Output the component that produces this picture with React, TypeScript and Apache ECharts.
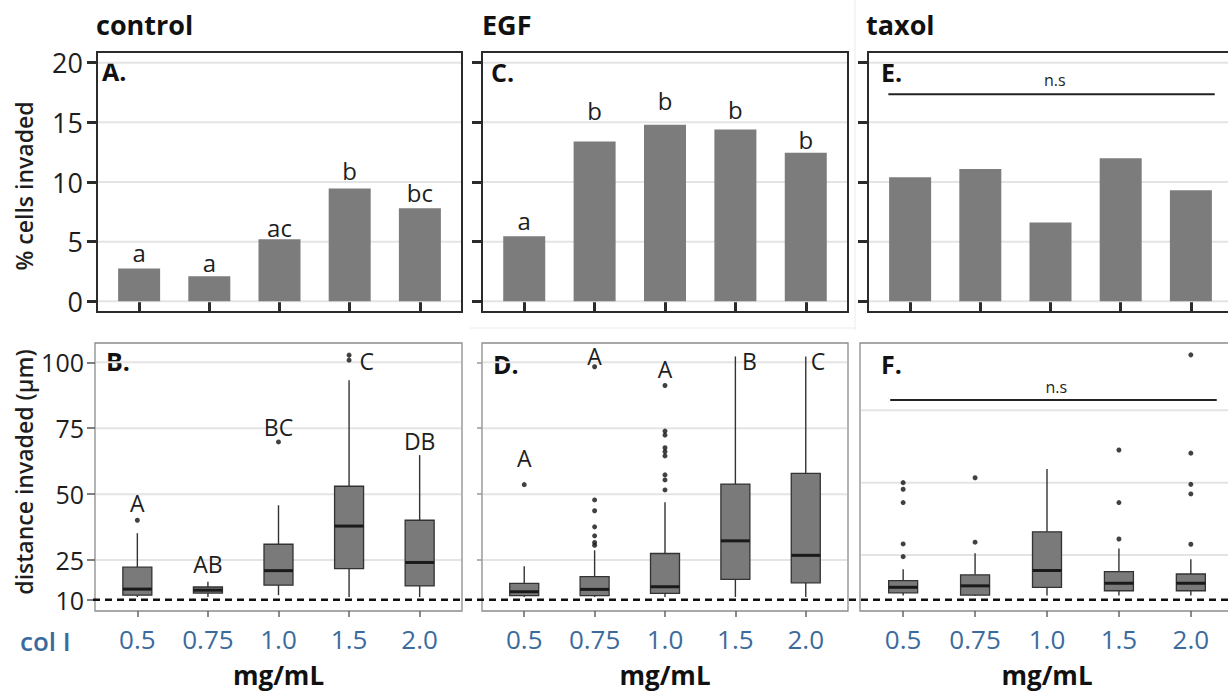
import React, { useEffect, useRef } from "react";
import * as echarts from "echarts";

// ---------- data ----------
const CATS = ["0.5", "0.75", "1.0", "1.5", "2.0"];
const XPOS = [1, 2, 3, 4, 5];

// % cells invaded (top row)
const pctControl = [2.75, 2.1, 5.2, 9.45, 7.8];
const pctEGF = [5.45, 13.4, 14.8, 14.4, 12.45];
const pctTaxol = [10.4, 11.1, 6.6, 12.0, 9.3];

const lettersControl = ["a", "a", "ac", "b", "bc"];
const lettersControlY = [4.1, 3.26, 6.2, 10.95, 9.13];
const lettersEGF = ["a", "b", "b", "b", "b"];
const lettersEGFY = [6.76, 15.98, 16.87, 16.12, 13.6];

// distance invaded (bottom row): [min, Q1, median, Q3, max]
const boxControl = [
  [11, 11.7, 14, 22.3, 35.2],
  [11, 12.5, 13.6, 14.8, 16.8],
  [11.7, 15.5, 21, 31, 45.8],
  [11, 21.8, 37.9, 53, 93.2],
  [11, 15.2, 24.1, 40.1, 64.8],
];
const outControl = [[40.1], [], [69.8], [100.8, 102.7], []];

const boxEGF = [
  [11, 11.5, 13, 16.2, 22.7],
  [11, 11.5, 13.9, 18.7, 28.7],
  [11, 12.4, 14.9, 27.5, 46.9],
  [11, 17.7, 32.3, 53.8, 102.2],
  [11, 16.4, 26.8, 57.9, 102.2],
];
const outEGF = [
  [53.6],
  [30.6, 31.7, 34.2, 37.6, 43.7, 47.8, 98.3],
  [51.6, 55.4, 57.3, 64.5, 66.1, 67.6, 72.4, 73.9, 91.2],
  [],
  [],
];

const boxTaxol = [
  [11, 11.9, 13.8, 16.1, 20.0],
  [10.8, 11.1, 14.3, 18.1, 25.6],
  [11, 13.8, 19.6, 33, 54.7],
  [11, 12.6, 15.2, 19.2, 27.2],
  [11, 12.6, 15.2, 18.4, 23.5],
];
const outTaxol = [
  [24.4, 28.8, 43.1, 47.7, 50],
  [29.4, 51.7],
  [],
  [30.5, 43.1, 61.3],
  [28.7, 46.1, 49.4, 60.2, 94.2],
];

const boxLettersControl = ["A", "AB", "BC", "C", "DB"];
const boxLettersControlX = [1, 2, 3, 4.25, 5];
const boxLettersControlY = [46.7, 23.4, 75.4, 100.4, 70.1];
const boxLettersEGF = ["A", "A", "A", "B", "C"];
const boxLettersEGFX = [1, 2, 3, 4.2, 5.175];
const boxLettersEGFY = [63.6, 102.4, 97.3, 100.5, 100.5];

// n.s brackets (taxol)
const nsTopLineX = [0.69, 5.34];
const nsTopLineY = 17.35;
const nsTopText = [3.06, 18.57];
const nsBotLineX = [0.82, 5.36];
const nsBotLineY = 78.6;
const nsBotText = [3.13, 83.1];

const topTicks = [0, 5, 10, 15, 20];
const topGrid = [0, 5, 10, 15, 20];
const botTicks = [10, 25, 50, 75, 100];
const botGrid = [25, 50, 75, 100];
const threshold = 10;

// ---------- styles ----------
const FONT = "'Open Sans', 'Noto Sans', sans-serif";
const BAR_COLOR = "#7b7c7b";
const BOX_FILL = "#7a7a7a";
const BLUE = "#3b6b9c";
const BOX_W = 29;

export default function App() {
  const ref = useRef<HTMLDivElement>(null);

  useEffect(() => {
    document.body.style.margin = "0";
    const chart = echarts.init(ref.current!, null, { renderer: "svg" });

    const topGrids = [
      { left: 97, top: 52, width: 365, height: 260 },
      { left: 482, top: 52, width: 366, height: 260 },
      { left: 868, top: 52, width: 365, height: 260 },
    ];
    const botGrids = [
      { left: 95, top: 343, width: 367, height: 268 },
      { left: 482, top: 343, width: 366, height: 268 },
      { left: 860, top: 343, width: 374, height: 268 },
    ];
    const grid = [
      ...topGrids.map((g) => ({
        ...g,
        show: true,
        borderColor: "#2b2b2b",
        borderWidth: 2,
        backgroundColor: "transparent",
        containLabel: false,
        outerBoundsMode: "none",
      })),
      ...botGrids.map((g) => ({
        ...g,
        show: true,
        borderColor: "#8c8c8c",
        borderWidth: 1.3,
        backgroundColor: "transparent",
        containLabel: false,
        outerBoundsMode: "none",
      })),
    ];

    const xAxis: any[] = [];
    const yAxis: any[] = [];
    for (let i = 0; i < 3; i++) {
      xAxis.push({
        type: "value",
        gridIndex: i,
        min: 0.4,
        max: 5.6,
        axisLine: { show: false },
        splitLine: { show: false },
        axisTick: {
          show: true,
          customValues: XPOS,
          length: 10,
          lineStyle: { color: "#2b2b2b", width: 3 },
        },
        axisLabel: { show: false },
      });
      yAxis.push({
        type: "value",
        gridIndex: i,
        min: -0.9,
        max: 20.9,
        axisLine: { show: false },
        splitLine: { show: false },
        axisTick: {
          show: true,
          customValues: topTicks,
          length: 10,
          lineStyle: { color: "#2b2b2b", width: 3 },
        },
        axisLabel: {
          show: i === 0,
          customValues: topTicks,
          fontSize: 27,
          fontFamily: FONT,
          color: "#1e1e1e",
          margin: 14,
        },
      });
    }
    const botYRange = [
      [5.7, 107.3],
      [5.7, 107.3],
      [5.6, 98.3],
    ];
    for (let i = 0; i < 3; i++) {
      xAxis.push({
        type: "value",
        gridIndex: 3 + i,
        min: 0.4,
        max: 5.6,
        axisLine: { show: false },
        splitLine: { show: false },
        axisTick: {
          show: true,
          customValues: XPOS,
          length: 6,
          lineStyle: { color: "#666", width: 1.5 },
        },
        axisLabel: {
          show: true,
          customValues: XPOS,
          formatter: (v: number) => CATS[Math.round(v) - 1] ?? "",
          fontSize: 26,
          lineHeight: 26,
          fontFamily: FONT,
          color: BLUE,
          margin: 15,
        },
        name: "mg/mL",
        nameLocation: "middle",
        nameGap: 51,
        nameTextStyle: {
          fontSize: 26,
          lineHeight: 26,
          fontWeight: "bold",
          fontFamily: FONT,
          color: "#111",
        },
      });
      yAxis.push({
        type: "value",
        gridIndex: 3 + i,
        min: botYRange[i][0],
        max: botYRange[i][1],
        axisLine: { show: false },
        splitLine: { show: false },
        axisTick: {
          show: i < 2,
          customValues: botTicks,
          length: i === 0 ? 8 : 5,
          lineStyle: { color: i === 0 ? "#555" : "#999", width: 1.5 },
        },
        axisLabel: {
          show: i === 0,
          customValues: botTicks,
          fontSize: 25,
          fontFamily: FONT,
          color: "#1e1e1e",
          margin: 11,
        },
      });
    }

    const gridLineSeries = (idx: number, vals: number[]) => ({
      type: "custom",
      xAxisIndex: idx,
      yAxisIndex: idx,
      z: 1,
      silent: true,
      clip: false,
      data: vals.map((v) => [1, v]),
      encode: { x: 0, y: 1 },
      renderItem: (params: any, api: any) => {
        const y = api.coord([1, api.value(1)])[1];
        const cs = params.coordSys;
        return {
          type: "line",
          shape: { x1: cs.x + 1, y1: y, x2: cs.x + cs.width - 1, y2: y },
          style: { stroke: "#e4e4e4", lineWidth: 2 },
        };
      },
    });

    const barSeries = (idx: number, vals: number[]) => ({
      type: "bar",
      xAxisIndex: idx,
      yAxisIndex: idx,
      z: 2,
      barWidth: 42,
      silent: true,
      itemStyle: { color: BAR_COLOR },
      data: vals.map((v, i) => [XPOS[i], v]),
    });

    const textSeries = (
      idx: number,
      xs: number[],
      ys: number[],
      texts: string[],
      size: number
    ) => ({
      type: "custom",
      xAxisIndex: idx,
      yAxisIndex: idx,
      z: 5,
      silent: true,
      clip: false,
      data: xs.map((x, i) => [x, ys[i]]),
      encode: { x: 0, y: 1 },
      renderItem: (params: any, api: any) => {
        const p = api.coord([api.value(0), api.value(1)]);
        return {
          type: "text",
          x: p[0],
          y: p[1],
          style: {
            text: texts[params.dataIndex],
            align: "center",
            verticalAlign: "middle",
            fontSize: size,
            fontFamily: FONT,
            fill: "#1e1e1e",
          },
        };
      },
    });

    const boxSeries = (idx: number, boxes: number[][]) => ({
      type: "custom",
      xAxisIndex: idx,
      yAxisIndex: idx,
      z: 3,
      silent: true,
      clip: false,
      data: boxes.map((b, i) => [XPOS[i], ...b]),
      encode: { x: 0, y: [1, 2, 3, 4, 5] },
      renderItem: (params: any, api: any) => {
        const x = api.value(0);
        const p = [1, 2, 3, 4, 5].map((d) => api.coord([x, api.value(d)]));
        const [pMin, pQ1, pMed, pQ3, pMax] = p;
        const h = BOX_W / 2;
        return {
          type: "group",
          children: [
            {
              type: "line",
              shape: { x1: pMin[0], y1: pMin[1], x2: pQ1[0], y2: pQ1[1] },
              style: { stroke: "#333", lineWidth: 1.4 },
            },
            {
              type: "line",
              shape: { x1: pQ3[0], y1: pQ3[1], x2: pMax[0], y2: pMax[1] },
              style: { stroke: "#333", lineWidth: 1.4 },
            },
            {
              type: "rect",
              shape: { x: pQ3[0] - h, y: pQ3[1], width: BOX_W, height: pQ1[1] - pQ3[1] },
              style: { fill: BOX_FILL, stroke: "#333", lineWidth: 1.3 },
            },
            {
              type: "line",
              shape: { x1: pMed[0] - h, y1: pMed[1], x2: pMed[0] + h, y2: pMed[1] },
              style: { stroke: "#1a1a1a", lineWidth: 3 },
            },
          ],
        };
      },
    });

    const outlierSeries = (idx: number, outs: number[][]) => ({
      type: "scatter",
      xAxisIndex: idx,
      yAxisIndex: idx,
      z: 4,
      silent: true,
      symbol: "circle",
      symbolSize: 5,
      clip: false,
      itemStyle: { color: "#111" },
      data: outs.flatMap((arr, i) => arr.map((v) => [XPOS[i], v])),
    });

    const nsLine = (idx: number, xs: number[], y: number) => ({
      type: "line",
      xAxisIndex: idx,
      yAxisIndex: idx,
      z: 5,
      silent: true,
      symbol: "none",
      lineStyle: { color: "#222", width: 2 },
      data: xs.map((x) => [x, y]),
    });

    const series: any[] = [
      gridLineSeries(0, topGrid),
      gridLineSeries(1, topGrid),
      gridLineSeries(2, topGrid),
      barSeries(0, pctControl),
      barSeries(1, pctEGF),
      barSeries(2, pctTaxol),
      textSeries(0, XPOS, lettersControlY, lettersControl, 24),
      textSeries(1, XPOS, lettersEGFY, lettersEGF, 24),
      nsLine(2, nsTopLineX, nsTopLineY),
      textSeries(2, [nsTopText[0]], [nsTopText[1]], ["n.s"], 16),

      gridLineSeries(3, botGrid),
      gridLineSeries(4, botGrid),
      gridLineSeries(5, [25, 50, 75]),
      boxSeries(3, boxControl),
      boxSeries(4, boxEGF),
      boxSeries(5, boxTaxol),
      outlierSeries(3, outControl),
      outlierSeries(4, outEGF),
      outlierSeries(5, outTaxol),
      textSeries(3, boxLettersControlX, boxLettersControlY, boxLettersControl, 23),
      textSeries(4, boxLettersEGFX, boxLettersEGFY, boxLettersEGF, 23),
      nsLine(5, nsBotLineX, nsBotLineY),
      textSeries(5, [nsBotText[0]], [nsBotText[1]], ["n.s"], 16),
    ];

    chart.setOption({
      animation: false,
      textStyle: { fontFamily: FONT },
      grid,
      xAxis,
      yAxis,
      series,
    });

    const y10 = chart.convertToPixel({ yAxisIndex: 3 } as any, threshold) as number;
    const x0 = (chart.convertToPixel({ xAxisIndex: 3 } as any, 0.4) as number) - 2;

    const titleStyle = (text: string) => ({
      text,
      fontSize: 27,
      fontWeight: "bold",
      fontFamily: FONT,
      fill: "#111",
    });
    const panelStyle = (text: string) => ({
      text,
      fontSize: 25,
      fontWeight: "bold",
      fontFamily: FONT,
      fill: "#111",
    });

    chart.setOption({
      graphic: [
        { type: "line", shape: { x1: 855, y1: 0, x2: 855, y2: 330 }, style: { stroke: "#ececec", lineWidth: 1 }, silent: true },
        { type: "line", shape: { x1: 470, y1: 328, x2: 855, y2: 328 }, style: { stroke: "#ececec", lineWidth: 1 }, silent: true },
        { type: "text", x: 96, y: 24, style: { ...titleStyle("control"), verticalAlign: "middle" } },
        { type: "text", x: 482, y: 24, style: { ...titleStyle("EGF"), verticalAlign: "middle" } },
        { type: "text", x: 866, y: 24, style: { ...titleStyle("taxol"), verticalAlign: "middle" } },
        { type: "text", x: 102, y: 71, style: { ...panelStyle("A."), verticalAlign: "middle" } },
        { type: "text", x: 106, y: 361, style: { ...panelStyle("B."), verticalAlign: "middle" } },
        { type: "text", x: 491, y: 72, style: { ...panelStyle("C."), verticalAlign: "middle" } },
        { type: "text", x: 493, y: 364, style: { ...panelStyle("D."), verticalAlign: "middle" } },
        { type: "text", x: 881, y: 72, style: { ...panelStyle("E."), verticalAlign: "middle" } },
        { type: "text", x: 881, y: 364, style: { ...panelStyle("F."), verticalAlign: "middle" } },
        {
          type: "text",
          x: 24,
          y: 186,
          rotation: Math.PI / 2,
          style: {
            text: "% cells invaded",
            fontSize: 23,
            fontWeight: 600,
            fontFamily: FONT,
            fill: "#1e1e1e",
            align: "center",
            verticalAlign: "middle",
          },
        },
        {
          type: "text",
          x: 24,
          y: 472,
          rotation: Math.PI / 2,
          style: {
            text: "distance invaded (µm)",
            fontSize: 23,
            fontWeight: 600,
            fontFamily: FONT,
            fill: "#1e1e1e",
            align: "center",
            verticalAlign: "middle",
          },
        },
        {
          type: "text",
          x: 20,
          y: 641,
          style: {
            text: "col I",
            fontSize: 26,
            fontWeight: 600,
            fontFamily: FONT,
            fill: BLUE,
            verticalAlign: "middle",
          },
        },
        {
          type: "line",
          z: 10,
          silent: true,
          shape: { x1: x0, y1: y10, x2: 1228, y2: y10 },
          style: { stroke: "#111", lineWidth: 2.5, lineDash: [7, 5] },
        },
      ],
    });

    return () => chart.dispose();
  }, []);

  return <div ref={ref} style={{ width: 1228, height: 692 }} />;
}
